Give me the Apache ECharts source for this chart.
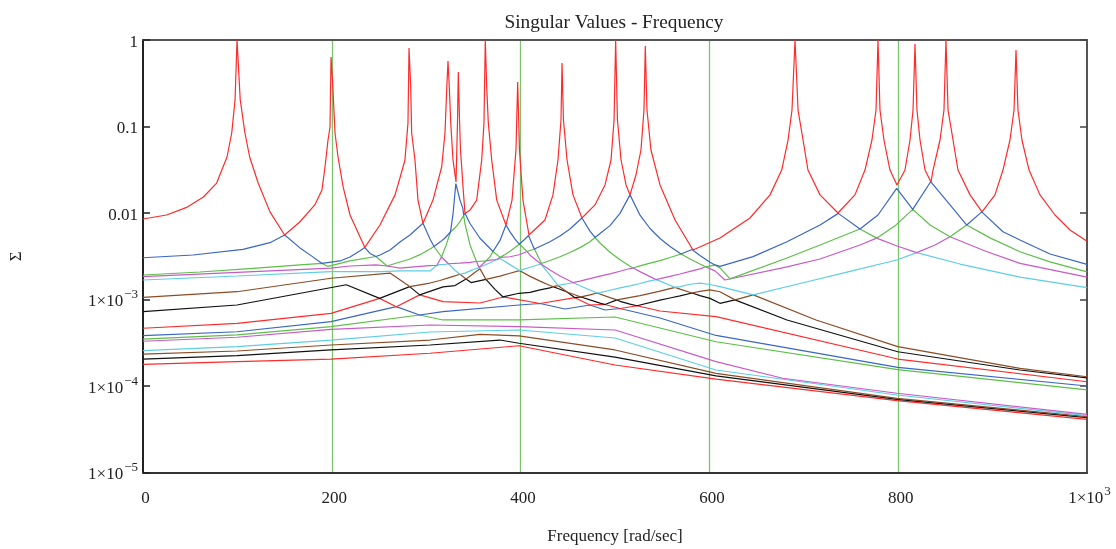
<!DOCTYPE html>
<html><head><meta charset="utf-8">
<script src="https://cdn.jsdelivr.net/npm/echarts@6/dist/echarts.min.js"></script>
<style>html,body{margin:0;padding:0;background:#fff}#c{width:1116px;height:549px}</style>
</head><body><div id="c"></div>
<script>
const xTicks = [0, 200, 400, 600, 800, 1000];

// singular values: [frequency rad/s, sigma]
const sv1 = [[0,0.00853],[25,0.00948],[47,0.0117],[64,0.0153],[78,0.0222],[89,0.0444],[94,0.0841],[97.5,0.203],[99.6,1],[103,0.203],[108,0.0841],[113,0.0444],[122,0.0222],[134.5,0.0103],[150,0.00557],[166,0.00787],[182,0.0124],[189.6,0.0185],[192.8,0.034],[196,0.0698],[198.1,0.0987],[199.2,0.636],[201,0.302],[203.4,0.0841],[206.6,0.0444],[212,0.02],[219.3,0.00948],[235,0.0040],[251,0.00726],[267,0.0162],[272.2,0.0254],[277.5,0.041],[280.7,0.11],[281.8,0.81],[283.6,0.286],[284.6,0.0841],[288.1,0.041],[291.3,0.0141],[296.6,0.0076],[307.2,0.0141],[316.4,0.034],[319.9,0.0841],[321.7,0.264],[323.1,0.572],[324.5,0.279],[326,0.11],[328.4,0.041],[331.6,0.0228],[333.2,0.119],[334,0.427],[335.3,0.119],[336.3,0.0535],[337.6,0.034],[339,0.02],[341.1,0.0099],[346.4,0.0108],[353.5,0.0141],[358.8,0.041],[361.2,0.11],[362.6,1],[364.1,0.286],[365.8,0.11],[369.4,0.041],[374.7,0.0141],[384.5,0.00726],[390.9,0.0141],[395.1,0.0535],[396.9,0.327],[398.8,0.0535],[402.5,0.0141],[408.9,0.00557],[425.8,0.0083],[434.3,0.0162],[439.6,0.041],[442.8,0.119],[443.9,0.542],[445.4,0.119],[449.2,0.041],[455.5,0.0162],[465,0.00875],[478.8,0.0124],[489.4,0.0211],[495.8,0.041],[499,0.119],[500.7,1],[502.6,0.119],[506.4,0.041],[511.7,0.0211],[515.9,0.0162],[522.2,0.0275],[527.5,0.0535],[530.7,0.155],[532.1,0.853],[533.9,0.155],[538.1,0.0535],[547.7,0.0211],[563.6,0.0083],[582.6,0.00374],[611.2,0.00514],[643,0.00875],[664.2,0.0162],[676.6,0.0314],[683.3,0.0698],[687.5,0.155],[690.7,1],[693.9,0.155],[699.2,0.0698],[704.4,0.0314],[717.2,0.0162],[736.2,0.01],[754.2,0.0162],[764.8,0.0314],[772.2,0.0698],[776.5,0.155],[778.6,1],[780.7,0.155],[784.9,0.0698],[791.3,0.0314],[798.7,0.0211],[807.2,0.0314],[812.5,0.0698],[815.7,0.155],[817.8,0.899],[819.9,0.155],[823.1,0.0698],[828.4,0.0314],[834.7,0.0228],[836.9,0.0314],[844.3,0.0698],[848.5,0.155],[850.6,1],[852.8,0.155],[858.1,0.0698],[863.3,0.0314],[876.1,0.0162],[888.8,0.0103],[902.5,0.0162],[911,0.0314],[918.4,0.0698],[922.7,0.155],[924.8,0.766],[926.9,0.155],[931.1,0.0698],[938.6,0.0314],[950.2,0.0162],[966.1,0.00948],[982,0.00636],[1000,0.0047]];
const sv2 = [[0,0.00304],[53,0.00327],[105.9,0.0038],[134.5,0.00454],[150.1,0.00557],[166.3,0.00395],[176.9,0.00328],[189.6,0.00261],[208.7,0.00279],[219.3,0.0031],[229.9,0.00366],[234.9,0.00399],[240.5,0.00341],[246.8,0.00314],[251.1,0.00327],[261.7,0.00374],[272.2,0.00462],[282.8,0.00557],[293.4,0.00707],[296.6,0.0076],[304,0.005],[308.3,0.0041],[314.6,0.00461],[319.9,0.00514],[325.7,0.00603],[328.4,0.00969],[331.4,0.0219],[335.8,0.0141],[338.8,0.0114],[339.7,0.00936],[341.1,0.00992],[346.4,0.00756],[357,0.00511],[370.8,0.00359],[378.2,0.00482],[384.5,0.00726],[388.8,0.00605],[394.1,0.00499],[398.6,0.00436],[404.7,0.005],[408.4,0.00549],[413.1,0.00414],[414.7,0.00384],[431.1,0.00466],[441.7,0.00542],[452.3,0.00653],[465,0.00876],[473.5,0.00618],[478.8,0.00521],[484.1,0.00578],[494.7,0.00715],[505.3,0.0099],[515.9,0.0162],[526.5,0.00943],[537.1,0.00662],[547.7,0.00507],[558.3,0.0041],[570,0.00336],[581.6,0.00378],[590,0.00323],[600.6,0.0027],[605.9,0.00251],[611.2,0.00242],[646.2,0.00313],[682.2,0.00466],[717.2,0.00726],[736.5,0.0099],[759.5,0.00653],[778.6,0.00948],[798.4,0.0193],[815.4,0.011],[834.4,0.023],[854.9,0.0124],[872.6,0.00726],[888.5,0.0103],[911,0.00608],[929,0.00487],[960.8,0.00336],[1000,0.00255]];
const sv3 = [[0,0.00192],[60.4,0.00208],[113.3,0.00228],[166.3,0.00251],[189.6,0.00261],[196,0.00241],[219.3,0.00279],[246.8,0.00314],[258.5,0.00244],[272.2,0.00271],[282.8,0.00294],[293.4,0.0033],[304,0.00384],[308.3,0.0041],[316.2,0.0031],[321,0.00422],[325.7,0.00603],[331.4,0.00689],[335.8,0.00795],[339.7,0.00936],[341.1,0.0075],[346.4,0.00427],[353.3,0.00275],[363.3,0.00279],[367.6,0.00313],[370.8,0.00359],[378.2,0.00307],[383.5,0.00332],[388.8,0.00362],[398.6,0.00436],[406.8,0.00359],[414.7,0.00384],[422.1,0.00261],[431.1,0.00282],[441.7,0.00312],[452.3,0.00349],[462.9,0.00398],[473.5,0.00466],[478.8,0.00521],[484.1,0.0045],[494.7,0.00352],[505.3,0.00288],[515.9,0.00243],[519.1,0.00231],[526.5,0.00245],[537.1,0.00263],[547.7,0.00282],[558.3,0.00306],[570,0.00336],[579.5,0.00294],[590,0.00257],[595.9,0.00239],[600.6,0.00243],[605.9,0.00251],[611.2,0.00232],[621.8,0.00173],[682.2,0.00302],[717.2,0.00427],[759.5,0.00653],[777.2,0.00512],[796.6,0.0071],[815.4,0.011],[833.7,0.00726],[854.9,0.00532],[872.6,0.00726],[897.2,0.00516],[929,0.00357],[960.8,0.00272],[1000,0.00209]];
const sv4 = [[0,0.00184],[99.6,0.00206],[199.2,0.0023],[219.3,0.00244],[246.8,0.00251],[258.5,0.00244],[272.2,0.00231],[293.4,0.00241],[304,0.00246],[311.4,0.00249],[316.2,0.0031],[323.6,0.00259],[335.8,0.00264],[346.4,0.00269],[353.3,0.00275],[355.9,0.00234],[363.3,0.00279],[367.6,0.00285],[375,0.0029],[378.2,0.00307],[380.3,0.00299],[388.8,0.00312],[399.4,0.00331],[406.8,0.00359],[410,0.00325],[421.6,0.00257],[431.1,0.00219],[441.7,0.00187],[455.5,0.00157],[462.9,0.00163],[473.5,0.00174],[484.1,0.00186],[494.7,0.00198],[505.3,0.00212],[515.9,0.00228],[519.1,0.00231],[526.5,0.0021],[537.1,0.00184],[543.4,0.0017],[547.7,0.00174],[558.3,0.00185],[568.9,0.00197],[579.5,0.00211],[590,0.00226],[595.9,0.00239],[605.9,0.00214],[616.5,0.00168],[682.2,0.00238],[717.2,0.00294],[759.5,0.00427],[777.2,0.00512],[798.7,0.00415],[819.6,0.00348],[839,0.00427],[854.9,0.00532],[892,0.00364],[929,0.00262],[1000,0.00181]];
const sv5 = [[0,0.00168],[99.6,0.00187],[199.2,0.0021],[251.1,0.0021],[272.2,0.00214],[304,0.00214],[311.4,0.00249],[314.6,0.00253],[319.9,0.00255],[323.6,0.00259],[330.5,0.00218],[335.8,0.00196],[341.1,0.00202],[346.4,0.00214],[351.7,0.00225],[355.9,0.00234],[357,0.00228],[362.3,0.00251],[367.6,0.00266],[375,0.0029],[378.2,0.00297],[380.3,0.00299],[388.8,0.00253],[398.8,0.00216],[410,0.00236],[421.6,0.00257],[431.1,0.00191],[439.6,0.00146],[452.3,0.00154],[455.5,0.00157],[462.9,0.00144],[473.5,0.00129],[480.9,0.00119],[484.1,0.0012],[494.7,0.00128],[505.3,0.00136],[515.9,0.00144],[526.5,0.00153],[537.1,0.00164],[543.4,0.0017],[547.7,0.00163],[558.3,0.00146],[563.6,0.00138],[568.9,0.00141],[579.5,0.0015],[590,0.00155],[600.6,0.00149],[611.2,0.00141],[646.5,0.00113],[696,0.00153],[749,0.00211],[798.4,0.00286],[819.6,0.00348],[865.5,0.00257],[929,0.00181],[1000,0.00137]];
const sv6 = [[0,0.00106],[99.6,0.00123],[199.2,0.00176],[261.7,0.00202],[282.5,0.00141],[304,0.00155],[314.6,0.00166],[325.2,0.0018],[335.8,0.00196],[342.2,0.00173],[346.4,0.00186],[351.7,0.00207],[357,0.00226],[363.3,0.00171],[378.2,0.00186],[388.8,0.00201],[398.8,0.00216],[410,0.00185],[420.6,0.00163],[431.1,0.00145],[434.3,0.00141],[439.6,0.00145],[449.2,0.00122],[464,0.00107],[473.5,0.00113],[480.9,0.00119],[494.7,0.00105],[502.1,0.00099],[526.5,0.00111],[547.7,0.00125],[563.6,0.00138],[568.9,0.00132],[581.6,0.00119],[590,0.00124],[600.6,0.00129],[611.2,0.00123],[627.1,0.00099],[646.5,0.00113],[713,0.00058],[799.5,0.000285],[929,0.00016],[1000,0.000128]];
const sv7 = [[0,0.000723],[99.6,0.000864],[215.4,0.00148],[250.7,0.00103],[282.5,0.00141],[293.1,0.00113],[317.8,0.0014],[330.5,0.00145],[342.2,0.00173],[347.5,0.00157],[363.3,0.00171],[372.9,0.00131],[381.4,0.00107],[398.3,0.00118],[410,0.00121],[420.6,0.00129],[431.1,0.00136],[434.3,0.00141],[439.6,0.00134],[449.2,0.00122],[457.6,0.00105],[464,0.00107],[473.5,0.00099],[484.1,0.000909],[489.4,0.000876],[502.1,0.00099],[505.3,0.000953],[515.9,0.000885],[523.3,0.000846],[547.7,0.000982],[558.3,0.00104],[568.9,0.0011],[581.6,0.00119],[590,0.00111],[600.6,0.00103],[611.2,0.000904],[627.1,0.00099],[682.2,0.00058],[799.5,0.000249],[929,0.000153],[1000,0.000124]];
const sv8 = [[0,0.000465],[99.6,0.000531],[199.2,0.000692],[250.7,0.00103],[268.3,0.000826],[293.1,0.00113],[317.8,0.000944],[357,0.000911],[381.4,0.00107],[420.6,0.000899],[457.6,0.00105],[473.5,0.000864],[489.4,0.000876],[505.3,0.000787],[523.3,0.000846],[547.7,0.000736],[607,0.000633],[799.5,0.000205],[1000,0.000112]];
const sv9 = [[0,0.000382],[99.6,0.000424],[199.2,0.000554],[268.3,0.000826],[293,0.000662],[317.8,0.000723],[398.3,0.000864],[420.6,0.000899],[447,0.000777],[473.5,0.000864],[489.4,0.000756],[505.3,0.000787],[547.7,0.000611],[607,0.000384],[799.5,0.000164],[1000,0.0001]];
const sv10 = [[0,0.000349],[99.6,0.000389],[199.2,0.000485],[293,0.000662],[317.8,0.00058],[398.3,0.00058],[500,0.000628],[607,0.000325],[799.5,0.000155],[1000,0.00009]];
const sv11 = [[0,0.000329],[99.6,0.000366],[199.2,0.000452],[304,0.000507],[398.3,0.000485],[500,0.000444],[607,0.000191],[677.6,0.000123],[798.7,0.0000824],[1000,0.0000471]];
const sv12 = [[0,0.000256],[99.6,0.000285],[199.2,0.00034],[304,0.000421],[398.3,0.000444],[500,0.000359],[607,0.000153],[798.7,0.0000787],[1000,0.0000454]];
const sv13 = [[0,0.000234],[99.6,0.000254],[199.2,0.000298],[304,0.00034],[357,0.000395],[398.3,0.000379],[500,0.000261],[607,0.00014],[798.7,0.0000721],[1000,0.0000442]];
const sv14 = [[0,0.000205],[99.6,0.000224],[199.2,0.000261],[304,0.000298],[378,0.00034],[398.3,0.000312],[500,0.000216],[607,0.000131],[798.7,0.0000702],[1000,0.000043]];
const sv15 = [[0,0.000178],[99.6,0.000191],[199.2,0.000204],[304,0.000239],[398.3,0.000292],[500,0.000175],[607,0.00012],[798.7,0.0000676],[1000,0.0000412]];

const traces = [sv1, sv2, sv3, sv4, sv5, sv6, sv7, sv8, sv9, sv10, sv11, sv12, sv13, sv14, sv15];
const palette = ['#ff2a2a', '#3a66c4', '#5cbf48', '#c85ac8', '#5fcde6', '#8b4c26', '#111111'];

const FONT = '"Liberation Serif", "Times New Roman", serif';
const rich = {
  a: { fontFamily: FONT, fontSize: 17, color: '#222', lineHeight: 22, verticalAlign: 'bottom' },
  s: { fontFamily: FONT, fontSize: 13, color: '#222', lineHeight: 22, verticalAlign: 'top', padding: [0, 0, 0, 1] }
};
function yLabel(v) {
  const e = Math.round(Math.log10(v));
  if (e === 0) return '{a|1}';
  if (e === -1) return '{a|0.1}';
  if (e === -2) return '{a|0.01}';
  return '{a|1×10}{s|−' + (-e) + '}';
}
function xLabel(v) {
  if (v === 1000) return '{a|1×10}{s|3}';
  return '{a|' + v + '}';
}

const series = [];
for (let i = traces.length - 1; i >= 0; i--) {
  series.push({
    type: 'line', data: traces[i], showSymbol: false, symbol: 'none',
    lineStyle: { color: palette[i % 7], width: 1.2 }, clip: true, z: 3 + (15 - i),
    animation: false, silent: true
  });
}

const chart = echarts.init(document.getElementById('c'), null, { renderer: 'canvas' });
chart.setOption({
  animation: false,
  backgroundColor: '#fff',
  title: { text: 'Singular Values - Frequency', left: 609, textAlign: 'center', top: 8,
    textStyle: { fontFamily: FONT, fontSize: 19.3, fontWeight: 'normal', color: '#222' } },
  grid: { left: 143, right: 29, top: 40, bottom: 76.5, containLabel: false, outerBoundsMode: 'none' },
  xAxis: [{
    type: 'value', min: 0, max: 1000, interval: 200, position: 'bottom',
    name: 'Frequency [rad/sec]', nameLocation: 'middle', nameGap: 56,
    nameTextStyle: { fontFamily: FONT, fontSize: 17, color: '#222' },
    axisLine: { show: true, onZero: false, lineStyle: { color: '#333', width: 2 } },
    axisTick: { show: false },
    splitLine: { show: true, showMinLine: false, showMaxLine: false, lineStyle: { color: '#7cc56c', width: 1.3 } },
    axisLabel: { margin: 13, formatter: xLabel, rich: rich, padding: [0, 0, 0, 5] }
  }, {
    type: 'value', min: 0, max: 1000, position: 'top',
    axisLine: { show: true, onZero: false, lineStyle: { color: '#555', width: 2 } },
    axisTick: { show: false }, axisLabel: { show: false }, splitLine: { show: false }
  }],
  yAxis: [{
    type: 'log', logBase: 10, min: 1e-5, max: 1, splitNumber: 5, position: 'left',
    name: 'Σ', nameLocation: 'middle', nameGap: 118, nameRotate: 90,
    nameTextStyle: { fontFamily: FONT, fontSize: 17, color: '#222' },
    axisLine: { show: true, onZero: false, lineStyle: { color: '#222', width: 2 } },
    axisTick: { show: true, inside: true, length: 7, lineStyle: { color: '#222', width: 1.5 } },
    splitLine: { show: false },
    axisLabel: { margin: 5, formatter: yLabel, rich: rich }
  }, {
    type: 'log', logBase: 10, min: 1e-5, max: 1, splitNumber: 5, position: 'right',
    axisLine: { show: true, onZero: false, lineStyle: { color: '#555', width: 2 } },
    axisTick: { show: true, inside: true, length: 7, lineStyle: { color: '#444', width: 1.5 } },
    splitLine: { show: false }, axisLabel: { show: false }
  }],
  series: series
});
</script></body></html>
